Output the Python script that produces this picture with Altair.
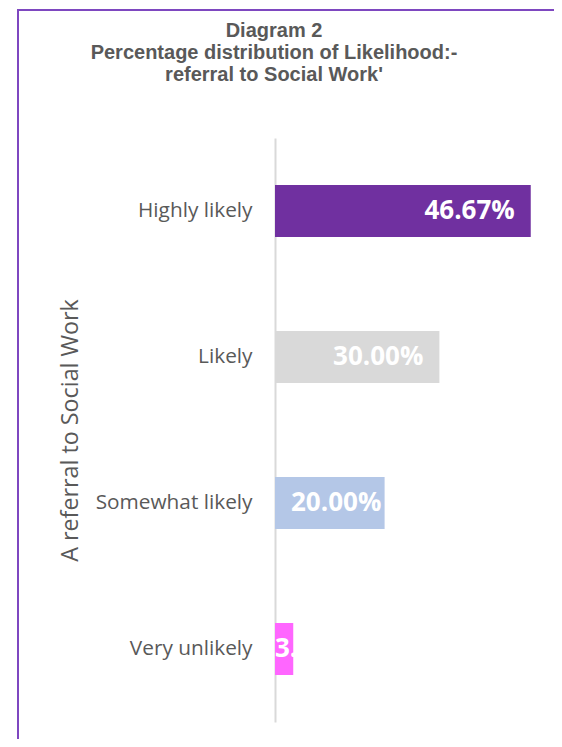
import altair as alt
import pandas as pd

categories = ["Highly likely", "Likely", "Somewhat likely", "Very unlikely"]
values = [46.67, 30.00, 20.00, 3.33]
labels = ["46.67%", "30.00%", "20.00%", "3.33%"]
colors = ["#7030A0", "#D9D9D9", "#B4C7E7", "#FF66FF"]

df = pd.DataFrame({"cat": categories, "value": values, "label": labels})

FONT = "Open Sans"
GREY = "#595959"

y_enc = alt.Y(
    "cat:N",
    sort=categories,
    scale=alt.Scale(paddingInner=0.644, paddingOuter=0.322),
    axis=alt.Axis(
        title="A referral to Social Work",
        titleFont=FONT,
        titleFontSize=23.3,
        titleFontWeight="normal",
        titleColor=GREY,
        titlePadding=13,
        labelFont=FONT,
        labelFontSize=20.8,
        labelColor=GREY,
        labelPadding=23,
        ticks=False,
        domainColor="#D9D9D9",
        domainWidth=2,
        grid=False,
    ),
)
x_scale = alt.Scale(domain=[0, 50])

base = alt.Chart(df)

bars = base.mark_bar().encode(
    y=y_enc,
    x=alt.X("value:Q", scale=x_scale, axis=None),
    color=alt.Color("cat:N", scale=alt.Scale(domain=categories, range=colors), legend=None),
)

txt_style = dict(font=FONT, fontSize=26, fontWeight="bold", color="white", baseline="middle")

t_big = base.transform_filter("datum.value >= 25").mark_text(align="right", dx=-16, **txt_style).encode(
    y=alt.Y("cat:N", sort=categories),
    x=alt.X("value:Q", scale=x_scale),
    text="label:N",
)
t_mid = base.transform_filter("datum.value >= 10 && datum.value < 25").mark_text(align="left", dx=16, **txt_style).encode(
    y=alt.Y("cat:N", sort=categories),
    x=alt.datum(0),
    text="label:N",
)
t_small = base.transform_filter("datum.value < 10").mark_text(align="left", dx=0, **txt_style).encode(
    y=alt.Y("cat:N", sort=categories),
    x=alt.datum(0),
    text="label:N",
)

one = pd.DataFrame({"a": [0]})
frame_left = alt.Chart(one).mark_rule(color="#7E47C0", strokeWidth=2).encode(
    x=alt.value(-257), y=alt.value(-128), y2=alt.value(800)
)
frame_top = alt.Chart(one).mark_rule(color="#7E47C0", strokeWidth=2).encode(
    y=alt.value(-128), x=alt.value(-258), x2=alt.value(600)
)

chart = alt.layer(frame_left, frame_top, bars, t_big, t_mid, t_small).properties(
    width=274,
    height=584,
    autosize=alt.AutoSizeParams(type="none"),
    padding={"left": 267, "top": 130, "right": 5, "bottom": 17},
    title=alt.TitleParams(
        text=["Diagram 2", "Percentage distribution of Likelihood:-", "referral to Social Work'"],
        font="Liberation Sans",
        fontSize=20,
        fontWeight="bold",
        color=GREY,
        anchor="middle",
        frame="group",
        dx=-138,
        offset=-76,
        lineHeight=22,
    ),
).configure(background="white").configure_view(strokeWidth=0, stroke="transparent")

chart.save("out.html", embed_options={"renderer": "svg", "actions": False})
